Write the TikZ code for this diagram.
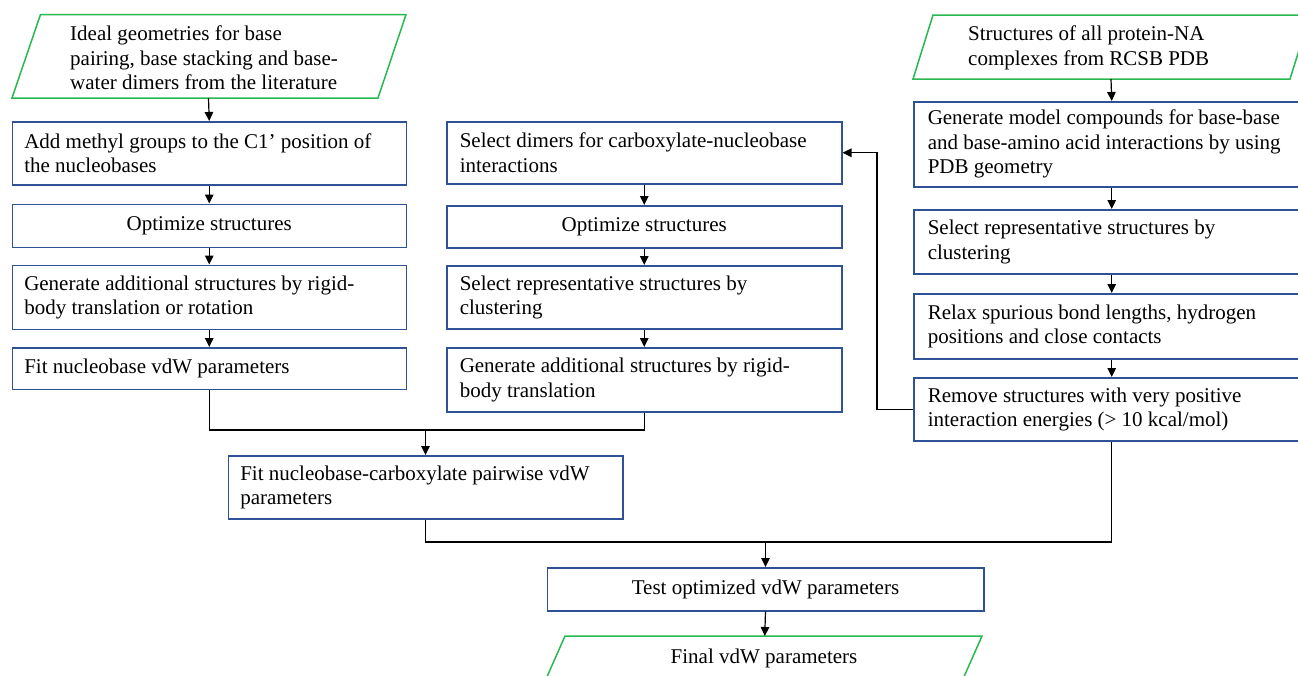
\documentclass[tikz,border=0pt]{standalone}
\usepackage{fontspec}
\setmainfont{Liberation Serif}
\usetikzlibrary{arrows.meta}
\definecolor{boxblue}{RGB}{47,82,150}
\definecolor{pgreen}{RGB}{40,184,80}
\begin{document}
\begin{tikzpicture}[x=1pt,y=-1pt,
  txt/.style={font=\fontsize{21}{24.5}\selectfont},
  box/.style={txt,draw=boxblue,line width=1.5pt,rectangle,inner xsep=12pt,inner ysep=0pt,align=flush left,anchor=north west},
  cbox/.style={box,align=flush center},
  para/.style={draw=pgreen,line width=1.5pt},
  ptext/.style={txt,align=flush left,inner sep=0pt},
  arr/.style={line width=1.2pt,-{Triangle[length=9pt,width=8.5pt]}},
  ln/.style={line width=1.2pt}]
\useasboundingbox (0,0) rectangle (1298,675);
\clip (0,0) rectangle (1298,675);

% ---- left input
\draw[para] (40.5,14.5) -- (406,14.5) -- (378,98) -- (12,98) -- cycle;
\node[ptext,anchor=west] (pL) at (70,58) {Ideal geometries for base\\pairing, base stacking and base-\\water dimers from the literature};
\coordinate (pLb) at (208.5,98);

% ---- left column
\node[box,text width=370pt,minimum height=63pt] (l1) at (11.5,121) {Add methyl groups to the C1’ position of\\the nucleobases};
\node[cbox,text width=370pt,minimum height=43pt] (l2) at (11.5,203.5) {Optimize structures};
\node[box,text width=370pt,minimum height=64pt] (l3) at (11.5,264.5) {Generate additional structures by rigid-\\body translation or rotation};
\node[box,text width=370pt,minimum height=41.5pt] (l4) at (11.5,347) {Fit nucleobase vdW parameters};

% ---- middle column
\node[box,inner xsep=13pt,text width=369pt,minimum height=62pt] (m1) at (446,121) {Select dimers for carboxylate-nucleobase\\interactions};
\node[cbox,inner xsep=13pt,text width=369pt,minimum height=42pt] (m2) at (446,205) {Optimize structures};
\node[box,inner xsep=13pt,text width=369pt,minimum height=63pt] (m3) at (446,265) {Select representative structures by\\clustering};
\node[box,inner xsep=13pt,text width=369pt,minimum height=64pt] (m4) at (446,347) {Generate additional structures by rigid-\\body translation};

% ---- right input
\draw[para] (933,15) -- (1310,15) -- (1290,79) -- (913,79) -- cycle;
\node[ptext,anchor=west] (pR) at (968,48) {Structures of all protein-NA\\complexes from RCSB PDB};
\coordinate (pRb) at (1111,79);

% ---- right column
\node[box,inner xsep=14pt,text width=368pt,minimum height=85pt] (r1) at (913,101) {Generate model compounds for base-base\\and base-amino acid interactions by using\\PDB geometry};
\node[box,inner xsep=14pt,text width=368pt,minimum height=64pt] (r2) at (913,209) {Select representative structures by\\clustering};
\node[box,inner xsep=14pt,text width=368pt,minimum height=65pt] (r3) at (913,293) {Relax spurious bond lengths, hydrogen\\positions and close contacts};
\node[box,inner xsep=14pt,text width=368pt,minimum height=63pt] (r4) at (913,377) {Remove structures with very positive\\interaction energies (> 10 kcal/mol)};

% ---- merge boxes
\node[box,text width=370.5pt,minimum height=63pt] (fit) at (227.5,455) {Fit nucleobase-carboxylate pairwise vdW\\parameters};
\node[cbox,text width=412.5pt,minimum height=43pt] (test) at (546.5,567) {Test optimized vdW parameters};

% ---- final output
\draw[para] (565,636) -- (982,636) -- (963,679) -- (546,679) -- cycle;
\node[txt,inner sep=0pt] (fin) at (764,658) {Final vdW parameters};
\coordinate (finT) at (764.75,636);

% ---- connectors
\draw[arr] (pLb) -- (l1.north);
\draw[arr] (l1.south) -- (l2.north);
\draw[arr] (l2.south) -- (l3.north);
\draw[arr] (l3.south) -- (l4.north);

\draw[arr] (m1.south) -- (m2.north);
\draw[arr] (m2.south) -- (m3.north);
\draw[arr] (m3.south) -- (m4.north);

\draw[arr] (pRb) -- (r1.north);
\draw[arr] (r1.south) -- (r2.north);
\draw[arr] (r2.south) -- (r3.north);
\draw[arr] (r3.south) -- (r4.north);

\draw[arr] (r4.west) -- ++(-36,0) |- (m1.east);

\path (fit.north) ++(0,-25) coordinate (j1);
\draw[ln] (l4.south) -- (l4.south |- j1) -- (m4.south |- j1) -- (m4.south);
\draw[arr] (j1) -- (fit.north);

\path (test.north) ++(0,-25) coordinate (j2);
\draw[ln] (fit.south) -- (fit.south |- j2) -- (r4.south |- j2) -- (r4.south);
\draw[arr] (j2) -- (test.north);

\draw[arr] (test.south) -- (finT);
\end{tikzpicture}
\end{document}
